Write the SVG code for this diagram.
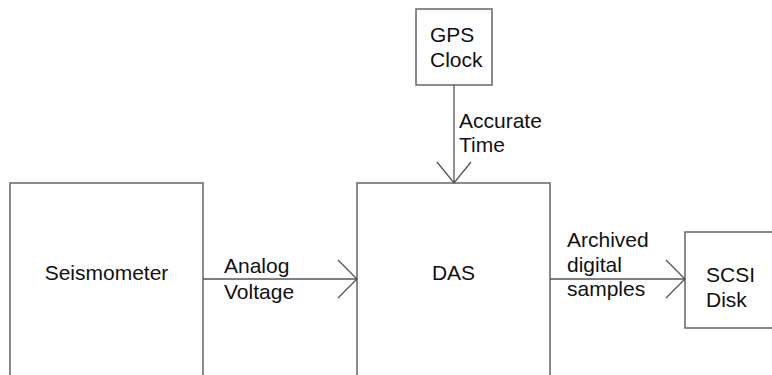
<svg xmlns="http://www.w3.org/2000/svg" width="772" height="375" viewBox="0 0 772 375">
<style>
.box{fill:none;stroke:#666;stroke-width:1.5}
.ln{fill:none;stroke:#555;stroke-width:1.3}
text{font-family:"Liberation Sans",Arial,sans-serif;font-size:21px;fill:#111}
</style>
<rect width="772" height="375" fill="#fff"/>
<g id="seismometer">
<path class="box" d="M10,376 V183 H203 V376"/>
<text x="106.5" y="280" text-anchor="middle">Seismometer</text>
</g>
<g id="das">
<path class="box" d="M357,376 V183 H550 V376"/>
<text x="453.5" y="280" text-anchor="middle">DAS</text>
</g>
<g id="gps">
<rect class="box" x="416" y="9" width="76" height="76"/>
<text x="430" y="42">GPS</text>
<text x="430" y="67">Clock</text>
</g>
<g id="scsi">
<path class="box" d="M773,232 H685 V328 H773"/>
<text x="706" y="282">SCSI</text>
<text x="706" y="307">Disk</text>
</g>
<g id="connectors">
<path class="ln" d="M454,85 V183 M437,162 L454,183 L471,162"/>
<text x="459" y="128">Accurate</text>
<text x="459" y="152">Time</text>
<path class="ln" d="M203,279 H357 M338,260 L357,279 L338,298"/>
<text x="224" y="273">Analog</text>
<text x="224" y="299">Voltage</text>
<path class="ln" d="M550,279 H685 M666,260 L685,279 L666,298"/>
<text x="567" y="247">Archived</text>
<text x="567" y="272">digital</text>
<text x="567" y="296">samples</text>
</g>
</svg>
